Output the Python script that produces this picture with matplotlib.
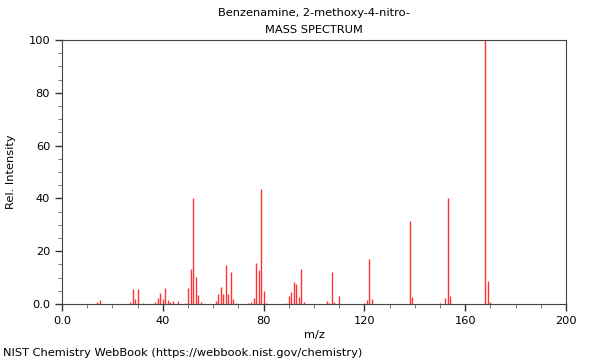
"""Mass spectrum of Benzenamine, 2-methoxy-4-nitro- as a stick plot (NIST WebBook style)."""
import matplotlib
matplotlib.use("Agg")
import matplotlib.pyplot as plt
from matplotlib.ticker import MultipleLocator

# peaks: m/z and relative intensity
mz = [14, 15, 27, 28, 29, 30, 32, 37, 38, 39, 40, 41, 42, 43, 44, 46,
      49, 50, 51, 52, 53, 54, 55, 61, 62, 63, 64, 65, 66, 67, 68, 69,
      74, 75, 76, 77, 78, 79, 80, 81, 89, 90, 91, 92, 93, 94, 95, 96,
      105, 106, 107, 108, 110, 120, 121, 122, 123, 138, 139,
      150, 152, 153, 154, 168, 169, 170]
intensity = [0.8, 1.4, 0.8, 5.6, 1.8, 5.5, 0.5, 0.9, 2.4, 4.2, 1.9, 6.1, 1.6, 0.6, 1.0, 1.1,
             0.4, 6.1, 13.4, 40.0, 10.2, 3.4, 0.6, 1.3, 3.7, 6.6, 3.9, 14.8, 3.7, 12.2, 1.8, 0.4,
             0.5, 0.6, 2.1, 15.5, 12.9, 43.4, 4.9, 0.4, 0.4, 3.2, 4.4, 8.5, 7.4, 2.5, 13.1, 0.6,
             1.0, 0.5, 12.1, 0.9, 3.0, 0.5, 1.6, 17.0, 1.9, 31.3, 2.8,
             0.5, 2.3, 40.1, 2.9, 100.0, 8.8, 0.8]

x_ticks = [0, 40, 80, 120, 160, 200]
x_labels = ["0.0", "40", "80", "120", "160", "200"]
y_ticks = [0, 20, 40, 60, 80, 100]
y_labels = ["0.0", "20", "40", "60", "80", "100"]

title = "Benzenamine, 2-methoxy-4-nitro-"
subtitle = "MASS SPECTRUM"
footer = "NIST Chemistry WebBook (https://webbook.nist.gov/chemistry)"

fs = 8.2
fig = plt.figure(figsize=(6, 3.6), dpi=100)
ax = fig.add_axes([62 / 600, 1 - 304 / 360, 504 / 600, 264 / 360])

ax.vlines(mz, 0, intensity, colors="#ff3333", linewidth=1.0)

ax.set_xlim(0, 200); ax.set_ylim(0, 100)
ax.set_xticks(x_ticks); ax.set_xticklabels(x_labels)
ax.set_yticks(y_ticks); ax.set_yticklabels(y_labels)
ax.xaxis.set_minor_locator(MultipleLocator(10))
ax.yaxis.set_minor_locator(MultipleLocator(5))
ax.tick_params(which="major", length=5, width=1, color="#333333", labelsize=fs)
ax.tick_params(which="minor", length=3, width=0.6, color="#666666")
for s in ax.spines.values():
    s.set_color("#444444"); s.set_linewidth(0.8)

ax.set_xlabel("m/z", fontsize=fs, labelpad=3)
ax.set_ylabel("Rel. Intensity", fontsize=fs, labelpad=9)

fig.text(314 / 600, 1 - 13 / 360, title, ha="center", va="center", fontsize=fs)
fig.text(314 / 600, 1 - 30 / 360, subtitle, ha="center", va="center", fontsize=fs)
fig.text(3 / 600, 1 - 353 / 360, footer, ha="left", va="center", fontsize=fs)

fig.savefig("out.png", dpi=100)
plt.close(fig)
